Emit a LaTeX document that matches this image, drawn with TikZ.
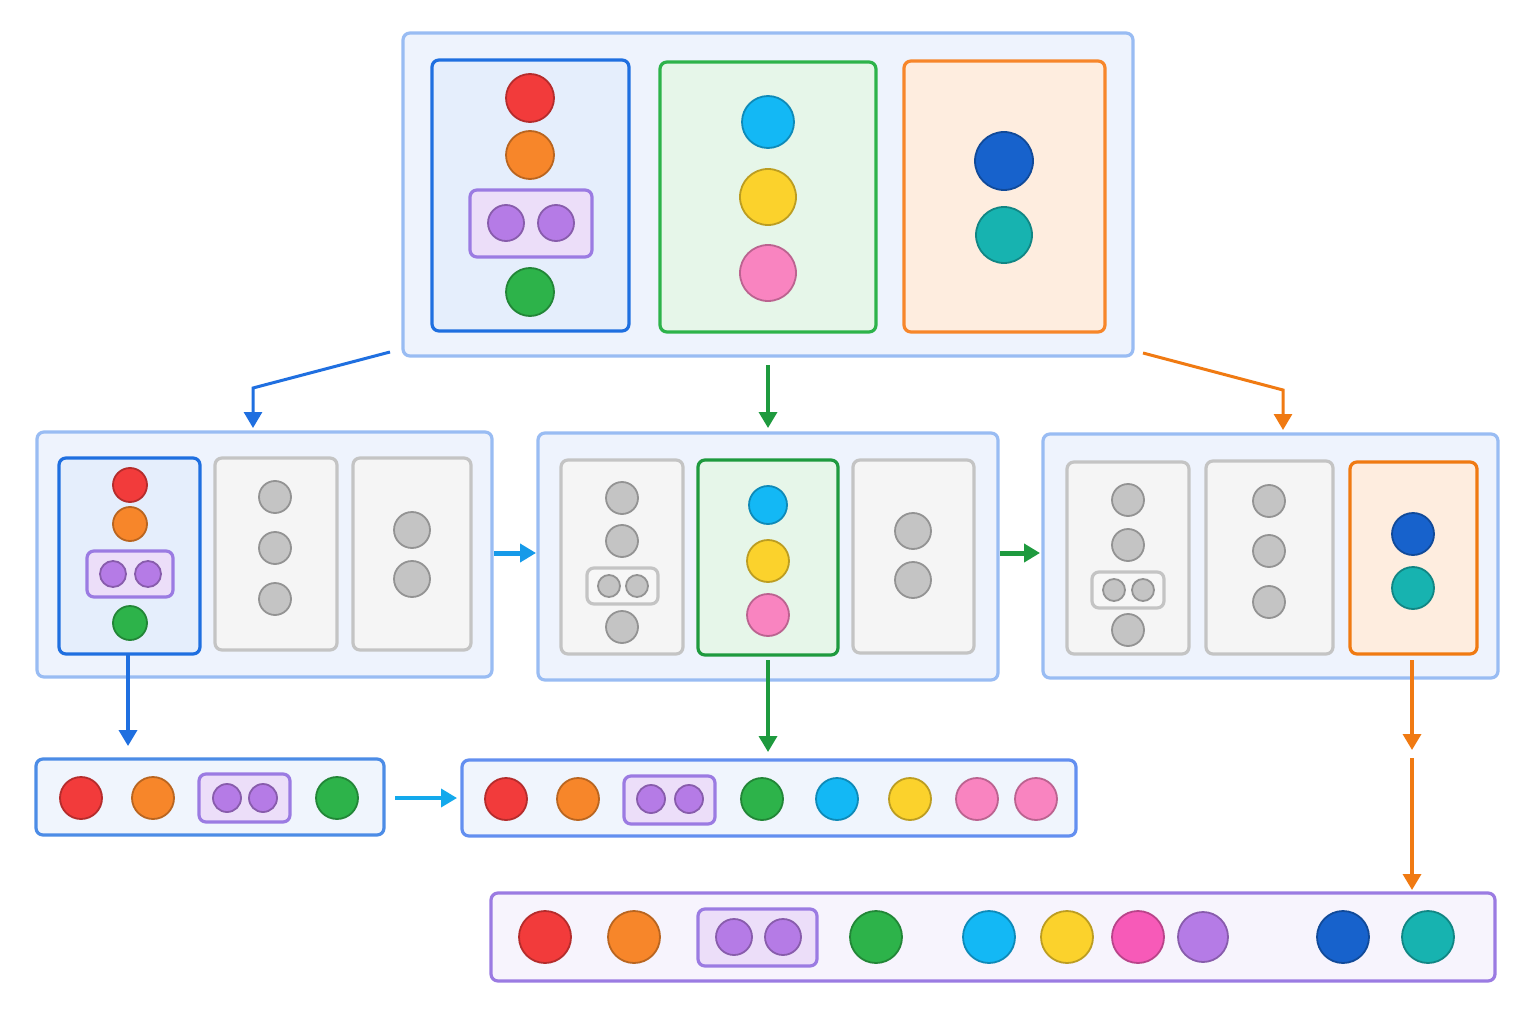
\documentclass[tikz,border=0pt]{standalone}
\usetikzlibrary{arrows.meta}
\definecolor{cRed}{HTML}{F23B3B}
\definecolor{cOrange}{HTML}{F7862A}
\definecolor{cPurple}{HTML}{B57BE6}
\definecolor{cGreen}{HTML}{2DB34A}
\definecolor{cCyan}{HTML}{13B8F5}
\definecolor{cYellow}{HTML}{FBD22C}
\definecolor{cPink}{HTML}{F984C0}
\definecolor{cMagenta}{HTML}{F75AB8}
\definecolor{cNavy}{HTML}{1762CC}
\definecolor{cTeal}{HTML}{17B3B0}
\definecolor{cGray}{HTML}{C4C4C4}
\definecolor{lBlue}{HTML}{6E9FEE}
\definecolor{dBlue}{HTML}{1F6FE0}
\definecolor{dGreen}{HTML}{1E9A3E}
\definecolor{dOrange}{HTML}{F07A12}
\definecolor{lPurple}{HTML}{9B7BE2}
\tikzset{
  dot/.style 2 args={circle, fill=#1, draw=#1!75!black, line width=1.8pt, minimum size=#2, inner sep=0pt},
  frame/.style 2 args={draw=#1, fill=#2, line width=3.2pt, rounded corners=7pt},
  outer/.style={frame={lBlue!70}{lBlue!12}},
  graypanel/.style={frame={cGray}{gray!8}},
  flow/.style={-{Triangle[length=16pt,width=18pt]}, line width=3.5pt},
}
\begin{document}
\begin{tikzpicture}[x=1pt,y=-1pt]
\useasboundingbox (0,0) rectangle (1536,1024);
\fill[white] (0,0) rectangle (1536,1024);

%top level
\draw[outer] (403,33) rectangle (1133,356);
\draw[frame={dBlue}{lBlue!18}] (432,60) rectangle (629,331);
\draw[frame={cGreen}{cGreen!12}] (660,62) rectangle (876,332);
\draw[frame={cOrange}{cOrange!15}] (904,61) rectangle (1105,332);
\node[dot={cRed}{48pt}] (tRed) at (530,98) {};
\node[dot={cOrange}{48pt}] (tOrange) at (530,155) {};
\draw[frame={lPurple}{cPurple!25}] (470,190) rectangle (592,257);
\node[dot={cPurple}{36pt}] (tPa) at (506,223) {};
\node[dot={cPurple}{36pt}] (tPb) at (556,223) {};
\node[dot={cGreen}{48pt}] (tGreen) at (530,292) {};
\node[dot={cCyan}{52pt}] (tCyan) at (768,122) {};
\node[dot={cYellow}{56pt}] (tYellow) at (768,197) {};
\node[dot={cPink}{56pt}] (tPink) at (768,273) {};
\node[dot={cNavy}{58pt}] (tNavy) at (1004,161) {};
\node[dot={cTeal}{56pt}] (tTeal) at (1004,235) {};

%middle level
\draw[outer] (37,432) rectangle (492,677);
\draw[outer] (538,433) rectangle (998,680);
\draw[outer] (1043,434) rectangle (1498,678);
% left
\draw[frame={dBlue}{lBlue!18}] (59,458) rectangle (200,654);
\node[dot={cRed}{34pt}] (aRed) at (130,485) {};
\node[dot={cOrange}{34pt}] (aOrange) at (130,524) {};
\draw[frame={lPurple}{cPurple!25}] (87,551) rectangle (173,597);
\node[dot={cPurple}{26pt}] (aPa) at (113,574) {};
\node[dot={cPurple}{26pt}] (aPb) at (148,574) {};
\node[dot={cGreen}{34pt}] (aGreen) at (130,623) {};
\draw[graypanel] (215,458) rectangle (337,650);
\foreach \y in {497,548,599} \node[dot={cGray}{32pt}] at (275,\y) {};
\draw[graypanel] (353,458) rectangle (471,650);
\foreach \y in {530,579} \node[dot={cGray}{36pt}] at (412,\y) {};
% middle
\draw[graypanel] (561,460) rectangle (683,654);
\foreach \y in {498,541,627} \node[dot={cGray}{32pt}] at (622,\y) {};
\draw[frame={cGray}{gray!6}] (587,568) rectangle (658,604);
\foreach \x in {609,637} \node[dot={cGray}{22pt}] at (\x,586) {};
\draw[frame={dGreen}{cGreen!12}] (698,460) rectangle (838,655);
\node[dot={cCyan}{38pt}] (bCyan) at (768,505) {};
\node[dot={cYellow}{42pt}] (bYellow) at (768,561) {};
\node[dot={cPink}{42pt}] (bPink) at (768,615) {};
\draw[graypanel] (853,460) rectangle (974,653);
\foreach \y in {531,580} \node[dot={cGray}{36pt}] at (913,\y) {};
% right
\draw[graypanel] (1067,462) rectangle (1189,654);
\foreach \y in {500,545,630} \node[dot={cGray}{32pt}] at (1128,\y) {};
\draw[frame={cGray}{gray!6}] (1092,572) rectangle (1164,608);
\foreach \x in {1114,1143} \node[dot={cGray}{22pt}] at (\x,590) {};
\draw[graypanel] (1206,461) rectangle (1333,654);
\foreach \y in {501,551,602} \node[dot={cGray}{32pt}] at (1269,\y) {};
\draw[frame={dOrange}{cOrange!15}] (1350,462) rectangle (1477,654);
\node[dot={cNavy}{42pt}] (cNavyDot) at (1413,534) {};
\node[dot={cTeal}{42pt}] (cTealDot) at (1413,588) {};

%flat rows
\draw[frame={dBlue!80}{lBlue!10}] (36,759) rectangle (384,835);
\node[dot={cRed}{42pt}] at (81,798) {};
\node[dot={cOrange}{42pt}] at (153,798) {};
\draw[frame={lPurple}{cPurple!25}] (199,774) rectangle (290,822);
\foreach \x in {227,263} \node[dot={cPurple}{28pt}] at (\x,798) {};
\node[dot={cGreen}{42pt}] at (337,798) {};

\draw[frame={lBlue!90!blue}{lBlue!10}] (462,760) rectangle (1076,836);
\node[dot={cRed}{42pt}] at (506,799) {};
\node[dot={cOrange}{42pt}] at (578,799) {};
\draw[frame={lPurple}{cPurple!25}] (624,776) rectangle (715,824);
\foreach \x in {651,689} \node[dot={cPurple}{28pt}] at (\x,799) {};
\node[dot={cGreen}{42pt}] at (762,799) {};
\node[dot={cCyan}{42pt}] at (837,799) {};
\node[dot={cYellow}{42pt}] at (910,799) {};
\node[dot={cPink}{42pt}] at (977,799) {};
\node[dot={cPink}{42pt}] at (1036,799) {};

\draw[frame={lPurple}{lPurple!8}] (491,893) rectangle (1495,981);
\node[dot={cRed}{52pt}] at (545,937) {};
\node[dot={cOrange}{52pt}] at (634,937) {};
\draw[frame={lPurple}{cPurple!25}] (698,909) rectangle (817,966);
\foreach \x in {734,783} \node[dot={cPurple}{36pt}] at (\x,937) {};
\node[dot={cGreen}{52pt}] at (876,937) {};
\node[dot={cCyan}{52pt}] at (989,937) {};
\node[dot={cYellow}{52pt}] at (1067,937) {};
\node[dot={cMagenta}{52pt}] at (1138,937) {};
\node[dot={cPurple}{50pt}] at (1203,937) {};
\node[dot={cNavy}{52pt}] at (1343,937) {};
\node[dot={cTeal}{52pt}] at (1428,937) {};

%connectors
\coordinate (sB) at (390,352); \coordinate (kB) at (253,388); \coordinate (eB) at (253,428);
\coordinate (sG) at (768,365); \coordinate (eG) at (768,428);
\coordinate (sO) at (1143,353); \coordinate (kO) at (1283,390); \coordinate (eO) at (1283,430);
\draw[flow, dBlue, line width=3pt] (sB) -- (kB) -- (eB);
\draw[flow, dGreen] (sG) -- (eG);
\draw[flow, dOrange, line width=3pt] (sO) -- (kO) -- (eO);
\draw[flow, dBlue!70!cyan, line width=5pt] (494,553) -- (536,553);
\draw[flow, dGreen, line width=5pt] (1000,553) -- (1040,553);
\draw[flow, dBlue] (128,655) -- (128,746);
\draw[flow, dGreen] (768,660) -- (768,752);
\draw[flow, dOrange] (1412,660) -- (1412,750);
\draw[flow, dOrange] (1412,758) -- (1412,890);
\draw[flow, dBlue!60!cyan] (395,798) -- (457,798);
\end{tikzpicture}
\end{document}
